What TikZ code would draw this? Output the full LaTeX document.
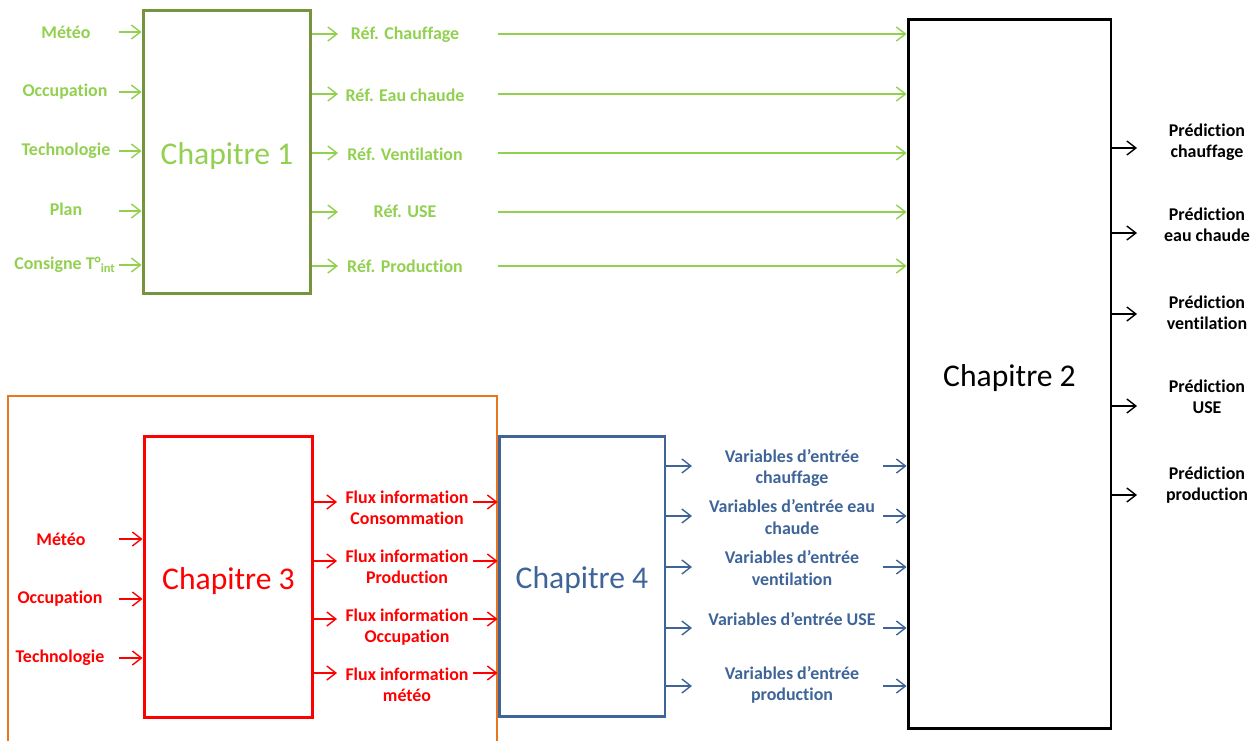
\documentclass[tikz,border=0pt]{standalone}
\usepackage{fontspec}
\setmainfont{Carlito}[Ligatures=NoCommon]
\usepackage{xcolor}
\usepackage{tikz}
\usetikzlibrary{arrows.meta,calc}
\definecolor{vertclair}{RGB}{146,208,80}
\definecolor{vertfonce}{RGB}{119,147,60}
\definecolor{rougevif}{RGB}{255,0,0}
\definecolor{bleuchap}{RGB}{62,100,152}
\definecolor{cadreorange}{RGB}{232,118,30}
\newcommand{\chaptxt}[1]{\raisebox{-0.08cm}[\height][\depth]{#1}}

\begin{document}
\begin{tikzpicture}[x=0.02cm,y=-0.02cm,
    chap/.style={draw, line width=1.7pt, fill=white, inner sep=0pt, font=\fontsize{18}{20}\selectfont},
    lab/.style={inner sep=0pt, align=center, font=\fontsize{10.2}{12.2}\selectfont\bfseries},
    fl/.style={line width=0.8pt, -{Straight Barb[length=1.8mm,width=2.8mm]}},
    gtxt/.style={lab, text=vertclair}, garr/.style={fl, vertclair},
    rtxt/.style={lab, text=rougevif}, rarr/.style={fl, rougevif},
    btxt/.style={lab, text=bleuchap}, barr/.style={fl, bleuchap},
    ktxt/.style={lab, text=black}, karr/.style={fl, black}]
    \useasboundingbox (0,0) rectangle (1260,740);
    % Frame
    \draw[line width=1.1pt, cadreorange] (8,742) -- (8,396) -- (497,396) -- (497,742);
    % Boxes
    \node[chap, draw=vertfonce, text=vertclair, minimum width=3.36cm, minimum height=5.68cm] (ch1) at (227,152) {\chaptxt{Chapitre 1}};
    \node[chap, draw=black, text=black, minimum width=4.06cm, minimum height=14.2cm] (ch2) at (1009.5,374) {\chaptxt{Chapitre 2}};
    \node[chap, draw=rougevif, text=rougevif, minimum width=3.38cm, minimum height=5.64cm] (ch3) at (228.5,577) {\chaptxt{Chapitre 3}};
    \node[chap, draw=bleuchap, text=bleuchap, minimum width=3.32cm, minimum height=5.62cm] (ch4) at (582,576.5) {\chaptxt{Chapitre 4}};
    %
    % Chapitre 1, entrees
    \node[gtxt] (meteoA) at (66,32) {Météo}; \coordinate (meteoAa) at (119,32);
    \draw[garr] (meteoAa) -- (meteoAa -| ch1.west);
    \node[gtxt] (occA) at (65,92) {Occupation}; \coordinate (occAa) at (119,92);
    \draw[garr] (occAa) -- (occAa -| ch1.west);
    \node[gtxt] (techA) at (66,151) {Technologie}; \coordinate (techAa) at (119,151);
    \draw[garr] (techAa) -- (techAa -| ch1.west);
    \node[gtxt] (plan) at (66,209) {Plan}; \coordinate (plana) at (119,211);
    \draw[garr] (plana) -- (plana -| ch1.west);
    \node[gtxt] (consigne) at (65,265) {Consigne T°\textsubscript{int}}; \coordinate (consignea) at (119,265);
    \draw[garr] (consignea) -- (consignea -| ch1.west);
    %
    % Chapitre 1, sorties vers Chapitre 2
    \coordinate (refAa) at (338,34); \draw[garr] (refAa -| ch1.east) -- (refAa);
    \node[gtxt] (refA) at (405,35) {Réf. Chauffage};
    \coordinate (refAb) at (498,34); \draw[garr] (refAb) -- (refAb -| ch2.west);
    \coordinate (refBa) at (338,94); \draw[garr] (refBa -| ch1.east) -- (refBa);
    \node[gtxt] (refB) at (405,95) {Réf. Eau chaude};
    \coordinate (refBb) at (498,94); \draw[garr] (refBb) -- (refBb -| ch2.west);
    \coordinate (refCa) at (338,153); \draw[garr] (refCa -| ch1.east) -- (refCa);
    \node[gtxt] (refC) at (405,154) {Réf. Ventilation};
    \coordinate (refCb) at (498,153); \draw[garr] (refCb) -- (refCb -| ch2.west);
    \coordinate (refDa) at (338,212); \draw[garr] (refDa -| ch1.east) -- (refDa);
    \node[gtxt] (refD) at (405,211) {Réf. USE};
    \coordinate (refDb) at (498,212); \draw[garr] (refDb) -- (refDb -| ch2.west);
    \coordinate (refEa) at (338,266); \draw[garr] (refEa -| ch1.east) -- (refEa);
    \node[gtxt] (refE) at (405,266) {Réf. Production};
    \coordinate (refEb) at (498,266); \draw[garr] (refEb) -- (refEb -| ch2.west);
    %
    % Chapitre 2, sorties
    \coordinate (predAa) at (1137,148); \draw[karr] (predAa -| ch2.east) -- (predAa);
    \node[ktxt] (predA) at (1207,142) {Prédiction\\chauffage};
    \coordinate (predBa) at (1137,233); \draw[karr] (predBa -| ch2.east) -- (predBa);
    \node[ktxt] (predB) at (1207,225) {Prédiction\\eau chaude};
    \coordinate (predCa) at (1137,314); \draw[karr] (predCa -| ch2.east) -- (predCa);
    \node[ktxt] (predC) at (1207,313) {Prédiction\\ventilation};
    \coordinate (predDa) at (1137,406); \draw[karr] (predDa -| ch2.east) -- (predDa);
    \node[ktxt] (predD) at (1207,397) {Prédiction\\USE};
    \coordinate (predEa) at (1137,495); \draw[karr] (predEa -| ch2.east) -- (predEa);
    \node[ktxt] (predE) at (1207,485) {Prédiction\\production};
    %
    % Chapitre 3, entrees
    \node[rtxt] (meteoC) at (61,539) {Météo}; \coordinate (meteoCa) at (119,539);
    \draw[rarr] (meteoCa) -- (meteoCa -| ch3.west);
    \node[rtxt] (occC) at (60,599) {Occupation}; \coordinate (occCa) at (119,599);
    \draw[rarr] (occCa) -- (occCa -| ch3.west);
    \node[rtxt] (techC) at (60,658) {Technologie}; \coordinate (techCa) at (119,658);
    \draw[rarr] (techCa) -- (techCa -| ch3.west);
    %
    % Chapitre 3, sorties vers Chapitre 4
    \coordinate (fluxAa) at (337,502); \draw[rarr] (fluxAa -| ch3.east) -- (fluxAa);
    \node[rtxt] (fluxA) at (407,508) {Flux information\\Consommation};
    \coordinate (fluxAb) at (473,502); \draw[rarr] (fluxAb) -- (fluxAb -| ch4.west);
    \coordinate (fluxBa) at (337,561); \draw[rarr] (fluxBa -| ch3.east) -- (fluxBa);
    \node[rtxt] (fluxB) at (407,567) {Flux information\\Production};
    \coordinate (fluxBb) at (473,561); \draw[rarr] (fluxBb) -- (fluxBb -| ch4.west);
    \coordinate (fluxCa) at (337,619); \draw[rarr] (fluxCa -| ch3.east) -- (fluxCa);
    \node[rtxt] (fluxC) at (407,627) {Flux information\\Occupation};
    \coordinate (fluxCb) at (473,619); \draw[rarr] (fluxCb) -- (fluxCb -| ch4.west);
    \coordinate (fluxDa) at (337,673); \draw[rarr] (fluxDa -| ch3.east) -- (fluxDa);
    \node[rtxt] (fluxD) at (407,685) {Flux information\\météo};
    \coordinate (fluxDb) at (473,673); \draw[rarr] (fluxDb) -- (fluxDb -| ch4.west);
    %
    % Chapitre 4, sorties vers Chapitre 2
    \coordinate (varAa) at (692,466); \draw[barr] (varAa -| ch4.east) -- (varAa);
    \node[btxt] (varA) at (792,468) {Variables d’entrée\\chauffage};
    \coordinate (varAb) at (883,466); \draw[barr] (varAb) -- (varAb -| ch2.west);
    \coordinate (varBa) at (692,516); \draw[barr] (varBa -| ch4.east) -- (varBa);
    \node[btxt] (varB) at (792,517) {Variables d’entrée eau\\chaude};
    \coordinate (varBb) at (883,516); \draw[barr] (varBb) -- (varBb -| ch2.west);
    \coordinate (varCa) at (692,567); \draw[barr] (varCa -| ch4.east) -- (varCa);
    \node[btxt] (varC) at (792,568) {Variables d’entrée\\ventilation};
    \coordinate (varCb) at (883,567); \draw[barr] (varCb) -- (varCb -| ch2.west);
    \coordinate (varDa) at (692,628); \draw[barr] (varDa -| ch4.east) -- (varDa);
    \node[btxt] (varD) at (792,619) {Variables d’entrée USE};
    \coordinate (varDb) at (883,628); \draw[barr] (varDb) -- (varDb -| ch2.west);
    \coordinate (varEa) at (692,686); \draw[barr] (varEa -| ch4.east) -- (varEa);
    \node[btxt] (varE) at (792,685) {Variables d’entrée\\production};
    \coordinate (varEb) at (883,686); \draw[barr] (varEb) -- (varEb -| ch2.west);
\end{tikzpicture}
\end{document}
